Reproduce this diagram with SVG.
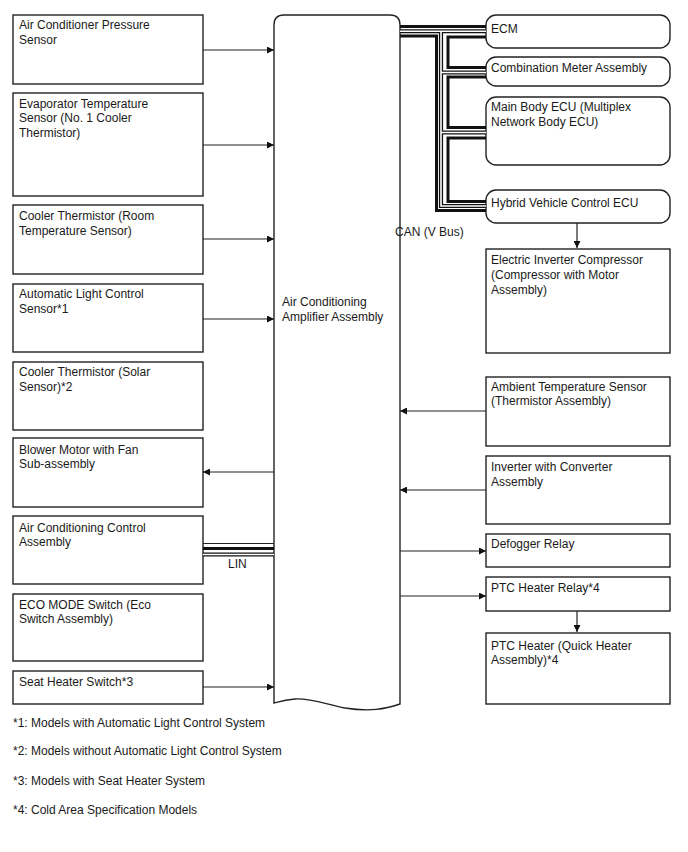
<svg xmlns="http://www.w3.org/2000/svg" width="688" height="852" viewBox="0 0 688 852">
<style>
text{font-family:"Liberation Sans",Arial,sans-serif;font-size:12px;fill:#1a1a1a}
.box{fill:#fff;stroke:#222;stroke-width:1.4}
.ln{fill:none;stroke:#222;stroke-width:1.2}
.thk{fill:none;stroke:#111;stroke-width:3}
.hb{fill:none;stroke:#111;stroke-width:4.2}
.hw{fill:none;stroke:#fff;stroke-width:1.6}
</style>
<defs>
<marker id="ah" viewBox="0 0 10 10" refX="10" refY="5" markerWidth="10" markerHeight="7" markerUnits="userSpaceOnUse" orient="auto"><path d="M0,0L10,5L0,10z" fill="#111"/></marker>
</defs>
<rect width="688" height="852" fill="#fff"/>

<g id="amp">
<path class="box" d="M274,703 V25 Q274,15 284,15 H390 Q400,15 400,25 V704 C385,709 370,712 345,708 C325,704 310,698 295,699 C285,700 278,702 274,703 Z"/>
<text x="282" y="306">Air Conditioning</text>
<text x="282" y="321">Amplifier Assembly</text>
</g>

<g id="n-pressure"><rect class="box" x="13" y="15" width="190" height="69"/><text x="19" y="29">Air Conditioner Pressure</text><text x="19" y="44">Sensor</text></g>
<g id="n-evap"><rect class="box" x="13" y="93" width="190" height="103"/><text x="19" y="108">Evaporator Temperature</text><text x="19" y="122">Sensor (No. 1 Cooler</text><text x="19" y="137">Thermistor)</text></g>
<g id="n-room"><rect class="box" x="13" y="205" width="190" height="69"/><text x="19" y="220">Cooler Thermistor (Room</text><text x="19" y="235">Temperature Sensor)</text></g>
<g id="n-light"><rect class="box" x="13" y="284" width="190" height="68"/><text x="19" y="298">Automatic Light Control</text><text x="19" y="313">Sensor*1</text></g>
<g id="n-solar"><rect class="box" x="13" y="362" width="190" height="68"/><text x="19" y="376">Cooler Thermistor (Solar</text><text x="19" y="391">Sensor)*2</text></g>
<g id="n-blower"><rect class="box" x="13" y="438" width="190" height="69"/><text x="19" y="454">Blower Motor with Fan</text><text x="19" y="468">Sub-assembly</text></g>
<g id="n-control"><rect class="box" x="13" y="516" width="190" height="68"/><text x="19" y="532">Air Conditioning Control</text><text x="19" y="546">Assembly</text></g>
<g id="n-eco"><rect class="box" x="13" y="594" width="190" height="67"/><text x="19" y="609">ECO MODE Switch (Eco</text><text x="19" y="623">Switch Assembly)</text></g>
<g id="n-seat"><rect class="box" x="13" y="671" width="190" height="33"/><text x="19" y="686">Seat Heater Switch*3</text></g>

<g id="n-ecm"><rect class="box" x="486" y="15" width="184" height="33" rx="10"/><text x="491" y="33">ECM</text></g>
<g id="n-comb"><rect class="box" x="486" y="57" width="184" height="29" rx="10"/><text x="491" y="72">Combination Meter Assembly</text></g>
<g id="n-body"><rect class="box" x="486" y="97" width="184" height="68" rx="10"/><text x="491" y="111">Main Body ECU (Multiplex</text><text x="491" y="126">Network Body ECU)</text></g>
<g id="n-hybrid"><rect class="box" x="486" y="190" width="184" height="33" rx="10"/><text x="491" y="207">Hybrid Vehicle Control ECU</text></g>
<g id="n-compressor"><rect class="box" x="486" y="249" width="184" height="104"/><text x="491" y="264">Electric Inverter Compressor</text><text x="491" y="279">(Compressor with Motor</text><text x="491" y="294">Assembly)</text></g>
<g id="n-ambient"><rect class="box" x="486" y="377" width="184" height="69"/><text x="491" y="391">Ambient Temperature Sensor</text><text x="491" y="405">(Thermistor Assembly)</text></g>
<g id="n-inverter"><rect class="box" x="486" y="456" width="184" height="68"/><text x="491" y="471">Inverter with Converter</text><text x="491" y="486">Assembly</text></g>
<g id="n-defogger"><rect class="box" x="486" y="534" width="184" height="33"/><text x="491" y="548">Defogger Relay</text></g>
<g id="n-ptcrelay"><rect class="box" x="486" y="577" width="184" height="34"/><text x="491" y="592">PTC Heater Relay*4</text></g>
<g id="n-ptcheater"><rect class="box" x="486" y="633" width="184" height="71"/><text x="491" y="650">PTC Heater (Quick Heater</text><text x="491" y="664">Assembly)*4</text></g>

<g id="connectors">
<path class="ln" marker-end="url(#ah)" d="M203,50H274"/>
<path class="ln" marker-end="url(#ah)" d="M203,145H274"/>
<path class="ln" marker-end="url(#ah)" d="M203,239H274"/>
<path class="ln" marker-end="url(#ah)" d="M203,319H274"/>
<path class="ln" marker-end="url(#ah)" d="M274,472H203"/>
<path class="ln" marker-end="url(#ah)" d="M203,687H274"/>
<path class="ln" marker-end="url(#ah)" d="M577,223V248"/>
<path class="ln" marker-end="url(#ah)" d="M486,411H400"/>
<path class="ln" marker-end="url(#ah)" d="M486,490H400"/>
<path class="ln" marker-end="url(#ah)" d="M400,551H486"/>
<path class="ln" marker-end="url(#ah)" d="M400,596H486"/>
<path class="ln" marker-end="url(#ah)" d="M577,611V632"/>
<g id="lin">
<path class="ln" d="M203,543.5H274"/>
<path class="thk" d="M203,548.5H274"/>
<path class="hb" d="M203,554.5H274"/>
<path class="hw" d="M203,554.5H274"/>
</g>
<g id="can">
<path class="thk" d="M400,26.5H486"/>
<path class="thk" d="M400,36H436.5V210.5H486"/>
<path class="thk" d="M486,37H448V67.5H486"/>
<path class="thk" d="M486,77H448V127.5H486"/>
<path class="thk" d="M486,138H448V201.5H486"/>
<path class="hb" d="M400,31.25H486M441,31.25V206H486M441,72.5H486M441,132.5H486"/>
<path class="hw" d="M400,31.25H486M441,31.25V206H486M441,72.5H486M441,132.5H486"/>
</g>
</g>

<text x="395" y="236">CAN (V Bus)</text>
<text x="228" y="568">LIN</text>
<text x="13" y="727">*1: Models with Automatic Light Control System</text>
<text x="13" y="755">*2: Models without Automatic Light Control System</text>
<text x="13" y="785">*3: Models with Seat Heater System</text>
<text x="13" y="814">*4: Cold Area Specification Models</text>
</svg>
